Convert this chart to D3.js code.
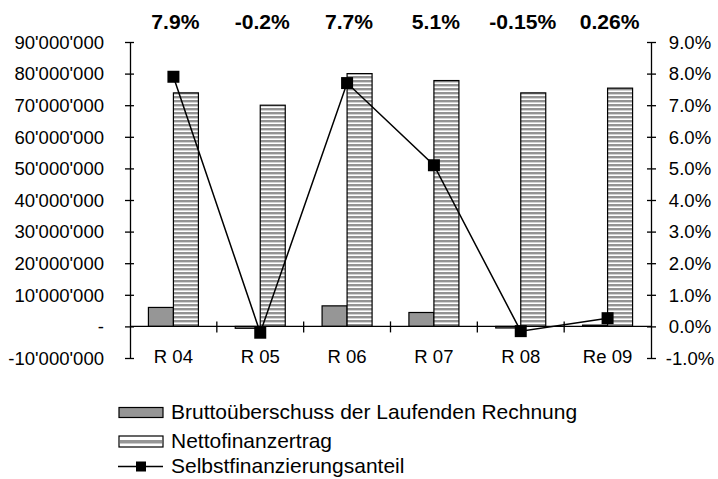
<!DOCTYPE html>
<html><head><meta charset="utf-8">
<script src="https://cdn.jsdelivr.net/npm/d3@7"></script>
<style>
html,body{margin:0;padding:0;background:#fff;}
svg text{font-family:"Liberation Sans",Arial,sans-serif;fill:#000;}
</style></head>
<body><svg id="c" width="718" height="479"></svg>
<script>
const categories = ["R 04","R 05","R 06","R 07","R 08","Re 09"];
const brutto = [6000000, -600000, 6500000, 4400000, -500000, 400000];
const netto = [73900000, 70000000, 80000000, 77800000, 73900000, 75400000];
const anteil = [7.9, -0.2, 7.7, 5.1, -0.15, 0.26];
const anteilLabels = ["7.9%","-0.2%","7.7%","5.1%","-0.15%","0.26%"];
const leftTicks = [-10000000,0,10000000,20000000,30000000,40000000,50000000,60000000,70000000,80000000,90000000];
const rightTicks = [-1,0,1,2,3,4,5,6,7,8,9];
const legendNames = ["Bruttoüberschuss der Laufenden Rechnung","Nettofinanzertrag","Selbstfinanzierungsanteil"];

const svg = d3.select("#c");
const L = 130, R = 651, T = 42, B = 358;
const x = d3.scaleBand().domain(categories).range([L, R]).padding(0);
const yL = d3.scaleLinear().domain([-10000000, 90000000]).range([B, T]);
const yR = d3.scaleLinear().domain([-1, 9]).range([B, T]);
const barW = 25;
const SX = 1.06;

function stretch(sel, k){
  sel.each(function(){
    const t = d3.select(this);
    const tx = +t.attr("x") || 0, ty = +t.attr("y") || 0;
    t.attr("transform", `translate(${tx},${ty}) scale(${k},1) translate(${-tx},${-ty})`);
  });
}

const defs = svg.append("defs");
const pat = defs.append("pattern").attr("id","stripes").attr("patternUnits","userSpaceOnUse")
  .attr("width",8).attr("height",4);
pat.append("rect").attr("width",8).attr("height",4).attr("fill","#fff");
pat.append("rect").attr("y",0).attr("width",8).attr("height",2.4).attr("fill","#939393");

const loc = d3.formatLocale({decimal:".", thousands:"'", grouping:[3], currency:["",""], minus:"-"});
const fmt = loc.format(",");

// bars
svg.append("g").selectAll("rect").data(brutto).join("rect")
  .attr("x",(d,i)=>x(categories[i]) + x.bandwidth()/2 - barW)
  .attr("y",d=>Math.min(yL(d), yL(0)))
  .attr("width",barW)
  .attr("height",d=>Math.abs(yL(d)-yL(0)))
  .attr("fill","#969696").attr("stroke","#000").attr("stroke-width",1.2);
svg.append("g").selectAll("rect").data(netto).join("rect")
  .attr("x",(d,i)=>x(categories[i]) + x.bandwidth()/2)
  .attr("y",d=>Math.min(yL(d), yL(0)))
  .attr("width",barW)
  .attr("height",d=>Math.abs(yL(d)-yL(0)))
  .attr("fill","url(#stripes)").attr("stroke","#000").attr("stroke-width",1.2);

// left axis
const gl = svg.append("g").attr("transform",`translate(${L},0)`)
  .call(d3.axisLeft(yL).tickValues(leftTicks).tickFormat(d=>d===0?"-":fmt(d)).tickSizeOuter(0));
gl.select(".domain").attr("stroke","#000").attr("stroke-width",1.3);
gl.selectAll(".tick line").attr("x1",-5).attr("x2",4).attr("stroke-width",1.3);
gl.selectAll(".tick text").attr("x",-26).attr("font-size",17.5).attr("font-family","Liberation Sans, Arial, sans-serif").attr("dy","0.36em");
stretch(gl.selectAll(".tick text"), SX);

// right axis
const gr = svg.append("g").attr("transform",`translate(${R},0)`)
  .call(d3.axisRight(yR).tickValues(rightTicks).tickFormat(d=>d.toFixed(1)+"%").tickSizeOuter(0));
gr.select(".domain").attr("stroke","#000").attr("stroke-width",1.3);
gr.selectAll(".tick line").attr("x1",-4).attr("x2",5).attr("stroke-width",1.3);
gr.selectAll(".tick text").attr("x",39).attr("text-anchor","middle").attr("font-size",17.5).attr("font-family","Liberation Sans, Arial, sans-serif").attr("dy","0.36em");
stretch(gr.selectAll(".tick text"), SX);

// baseline (category axis at zero)
const y0 = yL(0);
svg.append("line").attr("x1",L).attr("x2",R).attr("y1",y0).attr("y2",y0).attr("stroke","#000").attr("stroke-width",1.3);
const catTicks = categories.slice(1).map(c=>x(c));
svg.append("g").selectAll("line").data(catTicks).join("line")
  .attr("x1",d=>d).attr("x2",d=>d).attr("y1",y0-5).attr("y2",y0+6).attr("stroke","#000").attr("stroke-width",1.3);
const catText = svg.append("g").selectAll("text").data(categories).join("text")
  .attr("x",d=>x(d)+x.bandwidth()/2).attr("y",363).attr("text-anchor","middle").attr("font-size",17.5).text(d=>d);
stretch(catText, SX);

// line
const cx = i => x(categories[i]) + x.bandwidth()/2;
svg.append("path").datum(anteil)
  .attr("d", d3.line().x((d,i)=>cx(i)).y(d=>yR(d)))
  .attr("fill","none").attr("stroke","#000").attr("stroke-width",1.5);
svg.append("g").selectAll("rect").data(anteil).join("rect")
  .attr("x",(d,i)=>cx(i)-6).attr("y",d=>yR(d)-6).attr("width",12).attr("height",12).attr("fill","#000");

// labels on top
const lab = svg.append("g").selectAll("text").data(anteilLabels).join("text")
  .attr("x",(d,i)=>cx(i)+2).attr("y",29).attr("text-anchor","middle")
  .attr("font-size",20.5).attr("font-weight","bold").text(d=>d);
stretch(lab, 1.03);

// legend
const lg = svg.append("g");
const sx0 = 119, sw = 44, tx = 171;
const rows = [412.5, 441.5, 466.5];
lg.append("rect").attr("x",sx0).attr("y",rows[0]-5).attr("width",sw).attr("height",10)
  .attr("fill","#969696").attr("stroke","#000").attr("stroke-width",1.2);
lg.append("rect").attr("x",sx0).attr("y",rows[1]-5.5).attr("width",sw).attr("height",11)
  .attr("fill","#fff").attr("stroke","#000").attr("stroke-width",1.2);
lg.append("rect").attr("x",sx0+1).attr("y",rows[1]-1.5).attr("width",sw-2).attr("height",3.5)
  .attr("fill","#969696");
lg.append("line").attr("x1",sx0-1).attr("x2",sx0+sw).attr("y1",rows[2]).attr("y2",rows[2]).attr("stroke","#000").attr("stroke-width",1.5);
lg.append("rect").attr("x",sx0+sw/2-5).attr("y",rows[2]-5).attr("width",10).attr("height",10).attr("fill","#000");
const lt = lg.selectAll("text").data(legendNames).join("text")
  .attr("x",tx).attr("y",(d,i)=>rows[i]+7).attr("font-size",20).text(d=>d);
stretch(lt, 1.05);
</script></body></html>
